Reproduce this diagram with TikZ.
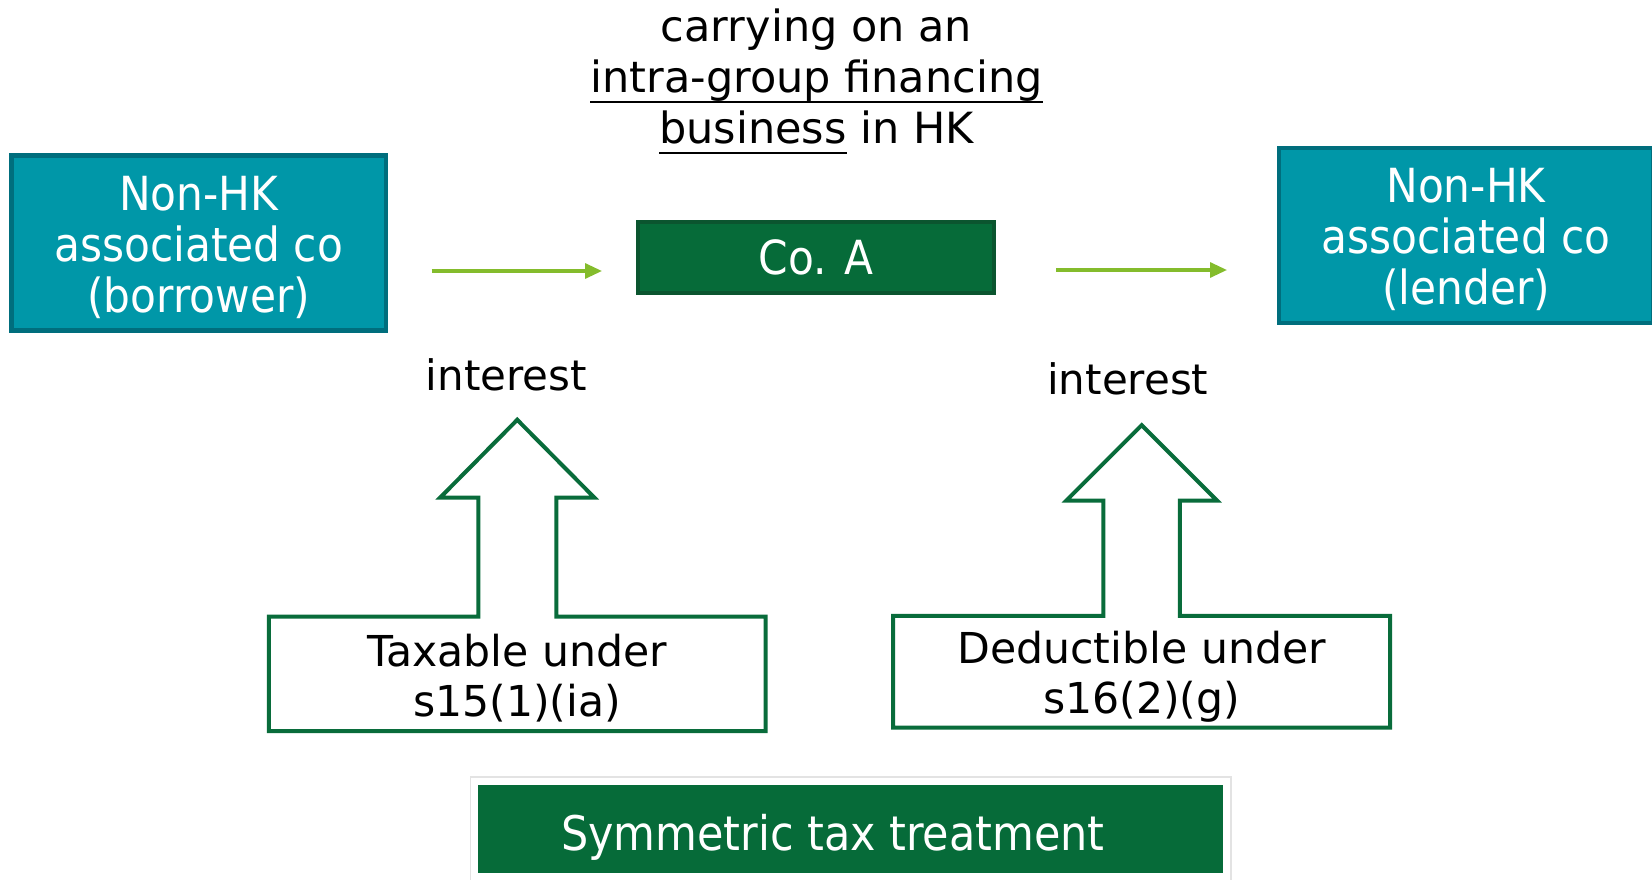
\documentclass[tikz,border=0pt]{standalone}
\usepackage{fontspec}
\setmainfont{DejaVu Sans}
\newfontfamily\condfont{DejaVu Sans Condensed}
\usetikzlibrary{arrows.meta,calc}

\definecolor{tealfill}{HTML}{0097A8}
\definecolor{tealedge}{HTML}{006E7D}
\definecolor{cofill}{HTML}{066B39}
\definecolor{coedge}{HTML}{0B552F}
\definecolor{flowgreen}{HTML}{84BC2C}
\definecolor{outlinegreen}{HTML}{096C3B}
\definecolor{panelgray}{HTML}{E3E3E3}

% underline drawn a fixed distance under the baseline
\newcommand\ulphrase[1]{\setbox0\hbox{#1}\rlap{\rule[-0.26em]{\wd0}{0.062em}}\box0\relax}

\begin{document}
\begin{tikzpicture}[x=1pt,y=-1pt,
  entity/.style={draw=tealedge, fill=tealfill, line width=4.5pt, inner sep=0pt,
    minimum width=374.3pt, minimum height=175pt},
  whitetext/.style={text=white, font=\condfont\fontsize{47}{51}\selectfont,
    align=center, inner sep=0pt, anchor=base},
  company/.style={draw=coedge, fill=cofill, line width=3.5pt, text=white,
    font=\condfont\fontsize{47}{51}\selectfont, inner sep=0pt,
    minimum width=355.8pt, minimum height=71.4pt},
  plain/.style={text=black, font=\fontsize{42}{52.5}\selectfont, align=center,
    inner sep=0pt, anchor=base},
  taxtext/.style={text=black, font=\fontsize{42.6}{49.5}\selectfont, align=center,
    inner sep=0pt, anchor=base},
  taxbox/.style={inner sep=0pt, minimum width=496.5pt},
  blockoutline/.style={draw=outlinegreen, line width=4pt, line join=miter},
  flow/.style={draw=flowgreen, line width=3.2pt, -{Triangle[length=17pt,width=15pt]}},
  panel/.style={draw=panelgray, line width=1.3pt, fill=white, inner sep=0pt},
  banner/.style={fill=cofill, inner sep=0pt}
]
\useasboundingbox (0,0) rectangle (1652,880);
\clip (0,0) rectangle (1652,880);

% heading above the company
\node[plain, font=\fontsize{43}{51}\selectfont] (heading) at (816.5,143.3)
  {carrying on an\\ \ulphrase{intra-group financing}\\ \ulphrase{business} in HK};

% the three companies
\node[entity] (borrower) at (198.7,243) {};
\node[whitetext] (borrowerlbl) at (198.7,312) {Non-HK\\associated co\\(borrower)};
\node[entity] (lender) at (1466,235.5) {};
\node[whitetext] (lenderlbl) at (1466,304.2) {Non-HK\\associated co\\(lender)};
\node[company] (coa) at (816.1,257.5) {Co. A};

% interest flows
\coordinate (f1s) at (431.5,271);
\coordinate (f1e) at (602,271);
\coordinate (f2s) at (1056,270);
\coordinate (f2e) at (1227,270);
\draw[flow] (f1s) -- (f1e);
\draw[flow] (f2s) -- (f2e);

\node[plain] (int1) at (506.3,390) {interest};
\node[plain] (int2) at (1127.8,394.3) {interest};

% treatment boxes with upward block arrows
\node[taxbox, minimum height=114.3pt] (taxable) at (517.25,673.85) {};
\node[taxtext] (taxablelbl) at (517.25,716) {Taxable under\\s15(1)(ia)};
\node[taxbox, minimum height=111.3pt] (deduct) at (1141.65,671.65) {};
\node[taxtext] (deductlbl) at (1141.65,713) {Deductible under\\s16(2)(g)};

\draw[blockoutline] (taxable.south west) -- (taxable.north west)
  -- ($(taxable.north)+(-39,0)$) -- ++(0,-119) -- ++(-38,0)
  -- ($(taxable.north)+(0,-196.7)$)
  -- ($(taxable.north)+(77,-119)$) -- ++(-38,0)
  -- ($(taxable.north)+(39,0)$) -- (taxable.north east)
  -- (taxable.south east) -- cycle;

\draw[blockoutline] (deduct.south west) -- (deduct.north west)
  -- ($(deduct.north)+(-38.3,0)$) -- ++(0,-115.3) -- ++(-37,0)
  -- ($(deduct.north)+(0,-190.6)$)
  -- ($(deduct.north)+(75.3,-115.3)$) -- ++(-37,0)
  -- ($(deduct.north)+(38.3,0)$) -- (deduct.north east)
  -- (deduct.south east) -- cycle;

% conclusion banner
\node[panel, minimum width=760.5pt, minimum height=120pt] (frame) at (850.7,837) {};
\node[banner, minimum width=744.7pt, minimum height=88.3pt] (symm) at (850.65,829.15) {};
\node[whitetext, font=\condfont\fontsize{47.7}{51}\selectfont] (symmlbl) at (832.9,850)
  {Symmetric tax treatment};
\end{tikzpicture}
\end{document}
